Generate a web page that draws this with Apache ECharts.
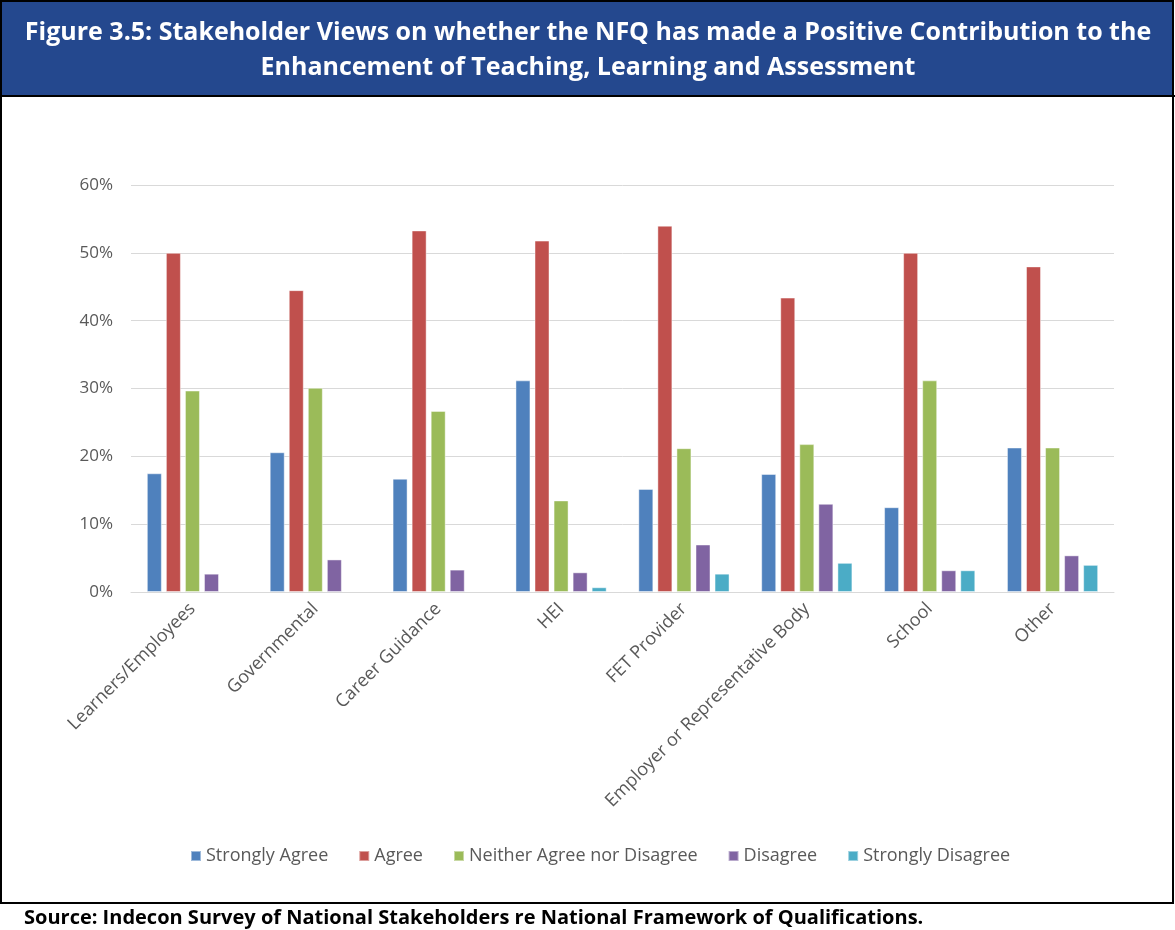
<!DOCTYPE html>
<html>
<head>
<meta charset="utf-8">
<title>Figure 3.5</title>
<script src="https://cdn.jsdelivr.net/npm/echarts@6/dist/echarts.min.js"></script>
<style>
  html, body { margin: 0; padding: 0; background: #fff; }
  #chart { width: 1175px; height: 930px; }
</style>
</head>
<body>
<div id="chart"></div>
<script>
// Stakeholder groups shown along the horizontal axis
const categories = [
  'Learners/Employees', 'Governmental', 'Career Guidance', 'HEI',
  'FET Provider', 'Employer or Representative Body', 'School', 'Other'
];

// Share of respondents per answer (percent); null = no responses
const stronglyAgree = [17.5, 20.6, 16.7, 31.2, 15.2, 17.4, 12.5, 21.3];
const agree         = [50.0, 44.5, 53.3, 51.8, 54.0, 43.4, 50.0, 48.0];
const neither       = [29.7, 30.1, 26.7, 13.5, 21.2, 21.8, 31.2, 21.3];
const disagree      = [2.7, 4.8, 3.3, 2.9, 7.0, 13.0, 3.2, 5.4];
const stronglyDis   = [null, null, null, 0.7, 2.7, 4.3, 3.2, 4.0];

const seriesNames = [
  'Strongly Agree', 'Agree', 'Neither Agree nor Disagree', 'Disagree', 'Strongly Disagree'
];
const seriesData = [stronglyAgree, agree, neither, disagree, stronglyDis];
const seriesColors = ['#4F81BD', '#C0504D', '#9BBB59', '#8064A2', '#4BACC6'];

// y axis ticks: 0% .. 60% every 10%
const yMin = 0, yMax = 60, yStep = 10;

const titleLines = [
  'Figure 3.5: Stakeholder Views on whether the NFQ has made a Positive Contribution to the',
  'Enhancement of Teaching, Learning and Assessment'
];
const sourceNote = 'Source: Indecon Survey of National Stakeholders re National Framework of Qualifications.';

const FONT = '"Open Sans", "Noto Sans", sans-serif';
const GREY = '#595959';

// one centred text element per title line
const titleGraphics = titleLines.map((line, i) => ({
  type: 'text', z: 2,
  style: {
    x: 588, y: 33 + i * 35,
    text: line,
    align: 'center',
    verticalAlign: 'middle',
    fill: '#ffffff',
    font: 'bold 25px ' + FONT
  }
}));

const chart = echarts.init(document.getElementById('chart'), null, { renderer: 'canvas' });

chart.setOption({
  animation: false,
  backgroundColor: '#ffffff',
  graphic: [
    // title band
    { type: 'rect', z: -1, shape: { x: 1, y: 1, width: 1173, height: 95 }, style: { fill: '#24488E' } },
    // outer frame
    { type: 'rect', z: 0, shape: { x: 1, y: 1, width: 1172, height: 902 }, style: { fill: 'none', stroke: '#000', lineWidth: 2 } },
    // rule under the title band
    { type: 'line', z: 0, shape: { x1: 0, y1: 96, x2: 1175, y2: 96 }, style: { stroke: '#000', lineWidth: 2 } },
    ...titleGraphics,
    // source note
    {
      type: 'text', z: 2,
      style: {
        x: 24, y: 918,
        text: sourceNote,
        align: 'left',
        verticalAlign: 'middle',
        fill: '#000000',
        font: 'bold 20px ' + FONT
      }
    }
  ],
  legend: {
    data: seriesNames,
    left: 185,
    top: 842,
    itemWidth: 10,
    itemHeight: 10,
    itemGap: 30,
    icon: 'rect',
    textStyle: { color: GREY, fontFamily: FONT, fontSize: 18 }
  },
  grid: { left: 131, right: 61, top: 185, bottom: 338, containLabel: false },
  xAxis: {
    type: 'category',
    data: categories,
    axisLine: { show: true, lineStyle: { color: '#D9D9D9', width: 1 } },
    axisTick: { show: false },
    axisLabel: {
      interval: 0,
      rotate: 45,
      margin: 14,
      color: GREY,
      fontFamily: FONT,
      fontSize: 18
    }
  },
  yAxis: {
    type: 'value',
    min: yMin,
    max: yMax,
    interval: yStep,
    axisLine: { show: false },
    axisTick: { show: false },
    splitLine: { lineStyle: { color: '#D9D9D9', width: 1 } },
    axisLabel: {
      formatter: '{value}%',
      margin: 18,
      color: GREY,
      fontFamily: FONT,
      fontSize: 17
    }
  },
  series: seriesNames.map((name, i) => ({
    name: name,
    type: 'bar',
    data: seriesData[i],
    barWidth: 15,
    barGap: '27%',
    itemStyle: {
      color: seriesColors[i],
      borderColor: 'rgba(255,255,255,0.45)',
      borderWidth: 1
    }
  }))
});
</script>
</body>
</html>
